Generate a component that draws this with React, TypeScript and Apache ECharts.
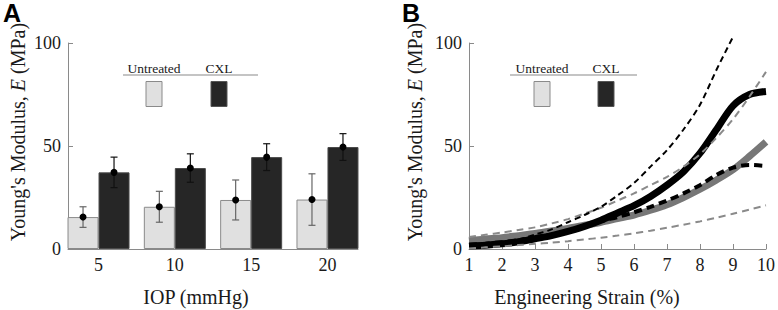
import React, { useEffect, useRef } from "react";
import * as echarts from "echarts";

// ---------- Panel A data ----------
const iopLevels = [5, 10, 15, 20];
const untreatedMean = [15.5, 20.5, 23.8, 24];
const untreatedErr = [5, 7.5, 9.7, 12.5];
const cxlMean = [37.2, 39.3, 44.6, 49.5];
const cxlErr = [7.4, 6.9, 6.5, 6.5];

// ---------- Panel B data ----------
const strain = [1, 1.5, 2, 2.5, 3, 3.5, 4, 4.5, 5, 5.5, 6, 6.5, 7, 7.5, 8, 8.5, 9, 9.5, 10];
const untreatedFit = [4, 4.8, 5.5, 6.5, 7.5, 8.7, 10, 11.5, 13, 14.8, 16.5, 18.8, 21.5, 25, 29, 33.5, 38.5, 45, 52];
const untreatedUpper = [5.8, 6.9, 8, 9.2, 10.5, 12.4, 14.5, 17.2, 20, 23.5, 27, 31, 35, 40, 46, 54, 63, 74, 86];
const untreatedLower = [0.3, 0.8, 1.3, 1.9, 2.5, 3.1, 3.8, 4.6, 5.5, 6.5, 7.6, 8.9, 10.3, 11.8, 13.4, 15.2, 17.1, 19.1, 21.2];
const cxlFit = [1.5, 1.8, 2.5, 3.5, 5, 6.5, 8.5, 11, 14, 17.5, 21, 25.5, 31, 37.5, 46.5, 58, 69.5, 75, 76.5];
const cxlUpper = [1.5, 2, 3, 4.5, 7, 9.5, 13, 16.5, 20.5, 26, 32, 40, 48, 58, 70, 87, 103];
const cxlLower = [2, 2.6, 3.3, 4.3, 5.5, 7, 8.8, 11, 13.5, 15.5, 17.8, 20.5, 23.5, 27, 31, 36, 39.5, 40.8, 40.3];

const yTicks = [0, 50, 100];
const legendLabels = ["Untreated", "CXL"];

const SERIF = "'Liberation Serif', 'DejaVu Serif', serif";
const SANS = "'Liberation Sans', Arial, sans-serif";
const LIGHT = "#e0e0e0";
const DARK = "#262626";
const AXIS = "#8a8a8a";
const TXT = "#1a1a1a";

const pairs = (xs: number[], ys: number[]) => ys.map((y, i) => [xs[i], y]);

export default function App() {
  const ref = useRef<HTMLDivElement>(null);
  useEffect(() => {
    document.body.style.margin = "0";
    const chart = echarts.init(ref.current!, null, { renderer: "svg" });

    const axisLabel = { fontFamily: SERIF, fontSize: 18, color: TXT };
    const yAxisCommon = {
      type: "value",
      min: yTicks[0],
      max: yTicks[yTicks.length - 1],
      interval: 50,
      axisLine: { show: true, lineStyle: { color: AXIS, width: 1 } },
      axisTick: { show: true, inside: true, length: 5, lineStyle: { color: AXIS } },
      splitLine: { show: false },
      axisLabel: { ...axisLabel, margin: 7 },
    };

    const errData = [
      ...iopLevels.map((x, i) => [x, untreatedMean[i], untreatedErr[i], -1]),
      ...iopLevels.map((x, i) => [x, cxlMean[i], cxlErr[i], 1]),
    ];
    const HALF_BAR = 15.5;

    const legendGroup = (lineX0: number, lineX1: number, c0: number, c1: number) => [
      { type: "line", shape: { x1: lineX0, y1: 75, x2: lineX1, y2: 75 }, style: { stroke: "#b0b0b0", lineWidth: 1.5 } },
      { type: "text", x: c0, y: 68, style: { text: legendLabels[0], fontFamily: SERIF, fontSize: 13.5, fill: TXT, align: "center", verticalAlign: "middle" } },
      { type: "text", x: c1, y: 68, style: { text: legendLabels[1], fontFamily: SERIF, fontSize: 13.5, fill: TXT, align: "center", verticalAlign: "middle" } },
      { type: "rect", shape: { x: c0 - 8, y: 81.5, width: 16, height: 25 }, style: { fill: LIGHT, stroke: "#8a8a8a", lineWidth: 1 } },
      { type: "rect", shape: { x: c1 - 8, y: 81.5, width: 16, height: 25 }, style: { fill: DARK, stroke: "#555", lineWidth: 1 } },
    ];

    const yName = (x: number) => ({
      type: "text",
      x,
      y: 132,
      rotation: Math.PI / 2,
      style: {
        text: "Young's Modulus, {i|E} (MPa)",
        fontFamily: SERIF,
        fontSize: 20,
        fill: TXT,
        align: "center",
        verticalAlign: "middle",
        rich: { i: { fontFamily: SERIF, fontSize: 20, fontStyle: "italic", fill: TXT } },
      },
    });

    chart.setOption({
      animation: false,
      grid: [
        { left: 68, top: 43, width: 290, height: 206 },
        { left: 469, top: 43, width: 299, height: 206 },
      ],
      xAxis: [
        {
          type: "value",
          gridIndex: 0,
          min: 3,
          max: 22,
          interval: 1,
          axisLine: { show: true, lineStyle: { color: AXIS } },
          axisTick: { show: false },
          splitLine: { show: false },
          axisLabel: { ...axisLabel, margin: 7, customValues: iopLevels },
        },
        {
          type: "value",
          gridIndex: 1,
          min: 1,
          max: 10,
          interval: 1,
          axisLine: { show: true, lineStyle: { color: AXIS } },
          axisTick: { show: true, inside: true, length: 5, lineStyle: { color: AXIS } },
          splitLine: { show: false },
          axisLabel: { ...axisLabel, margin: 7 },
        },
      ],
      yAxis: [
        { ...yAxisCommon, gridIndex: 0 },
        { ...yAxisCommon, gridIndex: 1 },
      ],
      series: [
        {
          type: "bar",
          name: "Untreated",
          xAxisIndex: 0,
          yAxisIndex: 0,
          barWidth: 31,
          barGap: "0%",
          itemStyle: { color: LIGHT, borderColor: "#8a8a8a", borderWidth: 1 },
          data: pairs(iopLevels, untreatedMean),
        },
        {
          type: "bar",
          name: "CXL",
          xAxisIndex: 0,
          yAxisIndex: 0,
          barWidth: 31,
          barGap: "0%",
          itemStyle: { color: DARK, borderColor: "#4a4a4a", borderWidth: 1 },
          data: pairs(iopLevels, cxlMean),
        },
        {
          type: "custom",
          xAxisIndex: 0,
          yAxisIndex: 0,
          z: 5,
          data: errData,
          renderItem: (_params: any, api: any) => {
            const x = api.value(0);
            const m = api.value(1);
            const e = api.value(2);
            const side = api.value(3);
            const c = api.coord([x, m]);
            const top = api.coord([x, m + e]);
            const bot = api.coord([x, m - e]);
            const cx = c[0] + side * HALF_BAR;
            const col = side < 0 ? "#666" : "#111";
            const lw = 1.2;
            return {
              type: "group",
              children: [
                { type: "line", shape: { x1: cx, y1: top[1], x2: cx, y2: bot[1] }, style: { stroke: col, lineWidth: lw } },
                { type: "line", shape: { x1: cx - 3.5, y1: top[1], x2: cx + 3.5, y2: top[1] }, style: { stroke: col, lineWidth: lw } },
                { type: "line", shape: { x1: cx - 3.5, y1: bot[1], x2: cx + 3.5, y2: bot[1] }, style: { stroke: col, lineWidth: lw } },
                { type: "circle", shape: { cx, cy: c[1], r: 3.5 }, style: { fill: "#000" } },
              ],
            };
          },
        },
        // Panel B
        {
          type: "line", xAxisIndex: 1, yAxisIndex: 1, symbol: "none", smooth: 0.3, z: 2,
          lineStyle: { color: "#777", width: 7 },
          data: pairs(strain, untreatedFit),
        },
        {
          type: "line", xAxisIndex: 1, yAxisIndex: 1, symbol: "none", smooth: 0.3, z: 3,
          lineStyle: { color: "#000", width: 7 },
          data: pairs(strain, cxlFit),
        },
        {
          type: "line", xAxisIndex: 1, yAxisIndex: 1, symbol: "none", smooth: 0.3, z: 4,
          lineStyle: { color: "#000", width: 4, type: [8, 5] },
          data: pairs(strain, cxlLower),
        },
        {
          type: "line", xAxisIndex: 1, yAxisIndex: 1, symbol: "none", smooth: 0.3, z: 4,
          lineStyle: { color: "#8a8a8a", width: 2, type: [7, 5] },
          data: pairs(strain, untreatedUpper),
        },
        {
          type: "line", xAxisIndex: 1, yAxisIndex: 1, symbol: "none", smooth: 0.3, z: 4,
          lineStyle: { color: "#8a8a8a", width: 2, type: [7, 5] },
          data: pairs(strain, untreatedLower),
        },
        {
          type: "line", xAxisIndex: 1, yAxisIndex: 1, symbol: "none", smooth: 0.3, z: 4, clip: false,
          lineStyle: { color: "#000", width: 2, type: [6, 4] },
          data: pairs(strain, cxlUpper),
        },
      ],
      graphic: [
        { type: "text", x: 3, y: 13, style: { text: "A", fontFamily: SANS, fontWeight: "bold", fontSize: 25, fill: "#000", align: "left", verticalAlign: "middle" } },
        { type: "text", x: 402, y: 13, style: { text: "B", fontFamily: SANS, fontWeight: "bold", fontSize: 25, fill: "#000", align: "left", verticalAlign: "middle" } },
        yName(18),
        yName(415),
        { type: "text", x: 196, y: 297, style: { text: "IOP (mmHg)", fontFamily: SERIF, fontSize: 20, fill: TXT, align: "center", verticalAlign: "middle" } },
        { type: "text", x: 587, y: 297, style: { text: "Engineering Strain (%)", fontFamily: SERIF, fontSize: 20, fill: TXT, align: "center", verticalAlign: "middle" } },
        ...legendGroup(123, 258, 154, 219),
        ...legendGroup(510, 637, 542, 606),
      ],
    });
    return () => chart.dispose();
  }, []);
  return <div ref={ref} style={{ width: 778, height: 310 }} />;
}
